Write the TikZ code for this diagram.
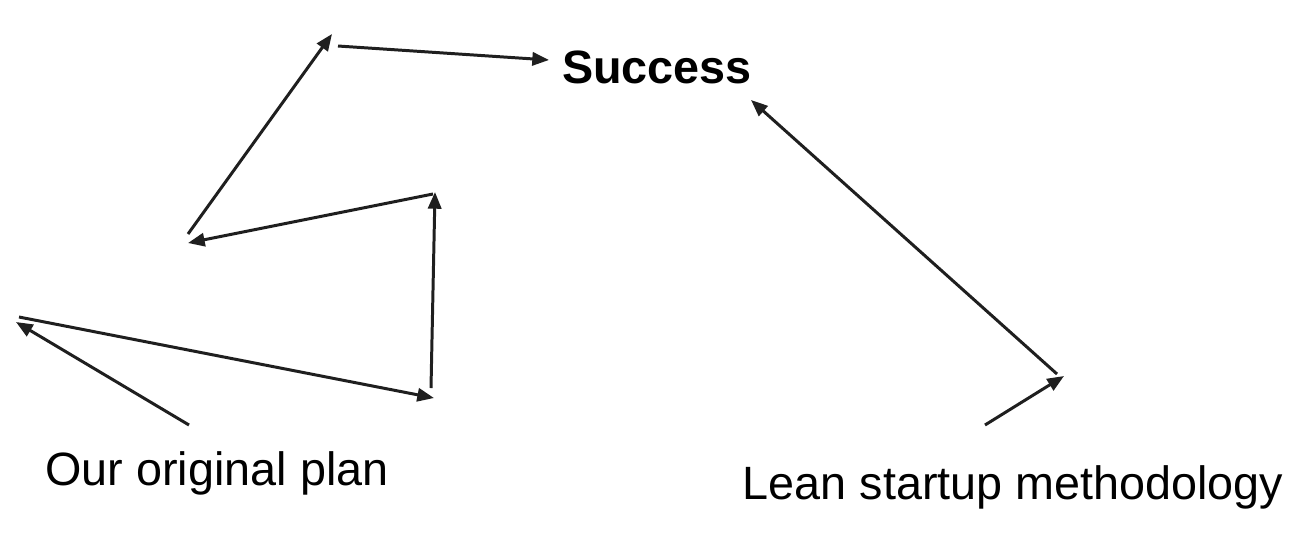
\documentclass[tikz,border=0pt]{standalone}
\usepackage{fontspec}
\setmainfont{Liberation Sans}
\usetikzlibrary{arrows.meta}

\begin{document}
\begin{tikzpicture}[x=0.02cm, y=-0.02cm, >={Triangle[length=9.5pt,width=7.5pt]}]

    % ====== Styles ======
    \tikzset{
        hop/.style={->, line width=1.7pt, black!88},
        caption/.style={anchor=base, inner sep=0pt, font=\fontsize{26.6}{32}\selectfont}
    }

    % ===== Page frame =====
    \useasboundingbox (0,0) rectangle (1310,535);

    % ===== Labels =====
    \node[caption] (success) at (657,83) {\bfseries Success};
    \node[caption] (plan) at (217,485) {Our original plan};
    \node[caption] (lean) at (1013,499) {Lean startup methodology};

    % ===== Zig-zag of the original plan =====
    \coordinate (a0) at (189,425); \coordinate (a1) at (16,322);
    \coordinate (b0) at (19,317);  \coordinate (b1) at (434,398);
    \coordinate (c0) at (431,388); \coordinate (c1) at (435,192);
    \coordinate (d0) at (433,194); \coordinate (d1) at (188,243);
    \coordinate (e0) at (188,234); \coordinate (e1) at (332,34);
    \coordinate (f0) at (338,46);  \coordinate (f1) at (549,60);

    \draw[hop] (a0) -- (a1);
    \draw[hop] (b0) -- (b1);
    \draw[hop] (c0) -- (c1);
    \draw[hop] (d0) -- (d1);
    \draw[hop] (e0) -- (e1);
    \draw[hop] (f0) -- (f1);

    % ===== Lean path =====
    \coordinate (g0) at (985,425);  \coordinate (g1) at (1064,376);
    \coordinate (h0) at (1057,374); \coordinate (h1) at (751,100);

    \draw[hop] (g0) -- (g1);
    \draw[hop] (h0) -- (h1);

\end{tikzpicture}
\end{document}
